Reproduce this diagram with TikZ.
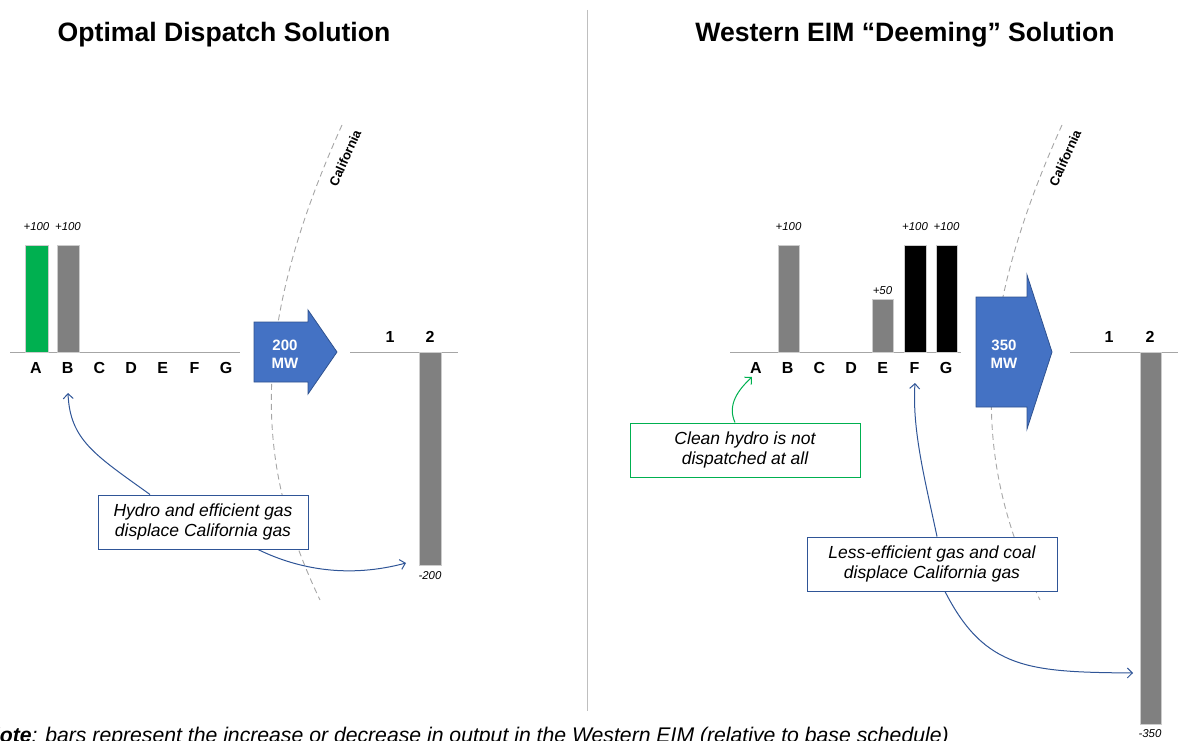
\documentclass[tikz,border=0pt]{standalone}
\usepackage{fontspec}
\setmainfont{Liberation Sans}
\usetikzlibrary{arrows.meta}

\definecolor{arrowblue}{HTML}{4472C4}
\definecolor{arrowedge}{HTML}{2F528F}
\definecolor{calloutblue}{HTML}{2F5597}
\definecolor{hydrogreen}{HTML}{00B050}
\definecolor{bargray}{HTML}{808080}
\definecolor{axisgray}{HTML}{A6A6A6}

\tikzset{
  axisline/.style={draw=axisgray, line width=1pt},
  bar/.style={fill=bargray, draw=white!80!black, line width=0.6pt},
  unit/.style={font=\fontsize{16}{18}\selectfont\bfseries, inner sep=0pt},
  val/.style={font=\fontsize{11.4}{13}\selectfont\itshape, inner sep=0pt},
  flow/.style={text=white, align=center, inner sep=0pt, font=\fontsize{15}{18}\selectfont\bfseries},
  blockarrow/.style={fill=arrowblue, draw=arrowedge, line width=0.8pt},
  callout/.style={draw=calloutblue, fill=white, line width=1pt, align=center, minimum height=54pt, inner sep=0pt, font=\fontsize{17.5}{20}\selectfont\itshape},
  link/.style={calloutblue, line width=1pt, -{Straight Barb[length=5pt,width=10pt]}},
  caline/.style={draw=axisgray, dash pattern=on 6pt off 4pt, line width=0.9pt},
  calabel/.style={font=\fontsize{13}{15}\selectfont\bfseries, inner sep=0pt, rotate=66},
  heading/.style={font=\fontsize{26.6}{30}\selectfont\bfseries, inner sep=0pt}
}

\begin{document}
\begin{tikzpicture}[x=1pt, y=-1pt]
  \useasboundingbox (0,0) rectangle (1178,741);

  \node[heading] (title1) at (224,35) {Optimal Dispatch Solution};
  \node[heading] (title2) at (905,35) {Western EIM “Deeming” Solution};

  \draw[draw=gray!50, line width=1pt] (587,10) -- (587,711);

  % optimal dispatch
  \begin{scope}
    \draw[caline] (342,125) .. controls (245,340) and (258,470) .. (320,600);
    \node[calabel] (ca1) at (345,158) {California};

    \draw[axisline] (10,352) -- (240,352);
    \draw[axisline] (350,352) -- (458,352);

    \foreach \g [count=\i from 0] in {A,B,C,D,E,F,G}{
      \node[unit] (l\g) at ({36+31.7*\i},368) {\g};
    }

    \draw[bar, fill=hydrogreen] (25,352) rectangle (48,245.5);
    \draw[bar] (57,352) rectangle (79,245.5);
    \node[val] at (36.5,227) {+100};
    \node[val] at (68,227) {+100};

    \node[unit] (l1) at (390,337) {1};
    \node[unit] (l2) at (430,337) {2};
    \draw[bar] (419,352) rectangle (441,565);
    \node[val] at (430,576) {-200};

    \draw[blockarrow] (254,322) -- (308,322) -- (308,310) -- (337,352)
      -- (308,394) -- (308,382) -- (254,382) -- cycle;
    \node[flow] (f1) at (285,354) {200\\MW};

    \node[callout, minimum width=210pt] (c1) at (203,522) {Hydro and efficient gas\\displace California gas};
    \coordinate (t1) at (68,393);
    \coordinate (t2) at (406,563);
    \draw[link] ([xshift=-53pt]c1.north) .. controls (95,455) and (70,440) .. (t1);
    \draw[link] ([xshift=55pt]c1.south) .. controls (300,570) and (350,578) .. (t2);
  \end{scope}

  % deeming
  \begin{scope}[shift={(720,0)}]
    \draw[caline] (342,125) .. controls (245,340) and (258,470) .. (320,600);
    \node[calabel] (ca2) at (345,158) {California};

    \draw[axisline] (10,352) -- (241,352);
    \draw[axisline] (350,352) -- (458,352);

    \foreach \g [count=\i from 0] in {A,B,C,D,E,F,G}{
      \node[unit] (r\g) at ({36+31.7*\i},368) {\g};
    }

    \draw[bar] (58,352) rectangle (79,245.5);
    \draw[bar] (152,352) rectangle (173,299);
    \draw[bar, fill=black] (184,352) rectangle (206,245.5);
    \draw[bar, fill=black] (216,352) rectangle (237,245.5);
    \node[val] at (68.5,227) {+100};
    \node[val] at (162.5,291) {+50};
    \node[val] at (195,227) {+100};
    \node[val] at (226.5,227) {+100};

    \node[unit] (r1) at (389,337) {1};
    \node[unit] (r2) at (430,337) {2};
    \draw[bar] (420,352) rectangle (441,724);
    \node[val] at (430,734) {-350};

    \draw[blockarrow] (256,297) -- (307,297) -- (307,275) -- (332,352)
      -- (307,429) -- (307,407) -- (256,407) -- cycle;
    \node[flow] (f2) at (284,354) {350\\MW};

    \node[callout, draw=hydrogreen, minimum width=230pt] (c3) at (25,450) {Clean hydro is not\\dispatched at all};
    \coordinate (t3) at (32,377);
    \draw[link, hydrogreen] ([xshift=-10pt]c3.north) .. controls (7,405) and (18,390) .. (t3);

    \node[callout, minimum width=250pt] (c4) at (212,564) {Less-efficient gas and coal\\displace California gas};
    \coordinate (t4) at (195,383);
    \coordinate (t5) at (413,673);
    \draw[link] ([xshift=5pt]c4.north) .. controls (205,480) and (192,430) .. (t4);
    \draw[link] ([xshift=13pt]c4.south) .. controls (265,670) and (310,672) .. (t5);
  \end{scope}

  \node[anchor=base east, inner sep=0pt, font=\fontsize{21.2}{24}\selectfont\itshape] (note) at (949,742)
    {\textbf{Note}: bars represent the increase or decrease in output in the Western EIM (relative to base schedule)};
\end{tikzpicture}
\end{document}
